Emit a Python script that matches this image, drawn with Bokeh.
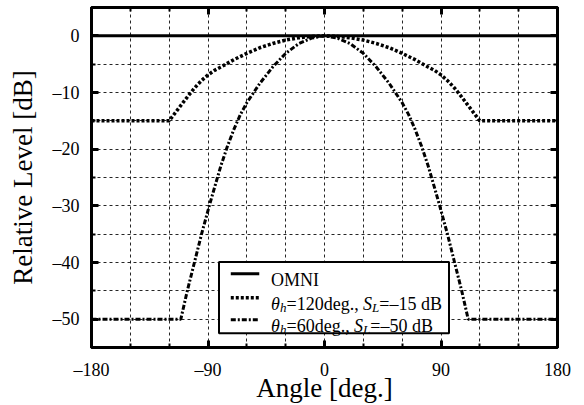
from bokeh.plotting import figure
from bokeh.models import FixedTicker, LinearAxis, Range1d, BoxAnnotation, Arrow, Label
from bokeh.embed import file_html
from bokeh.resources import INLINE

# ---------------- data ----------------
omni_angle = [-180, 180]
omni_level = [0, 0]

h120_angle = [-180, -120, -115, -110, -105, -100, -95, -90, -85, -80, -70, -60, -50, -40, -30, -20, -10, 0,
              10, 20, 30, 40, 50, 60, 70, 80, 85, 90, 95, 100, 105, 110, 115, 120, 180]
h120_level = [-15, -15, -13.5, -12.0, -10.5, -9.1, -7.9, -6.9, -6.1, -5.5, -4.2, -3.1, -2.1, -1.35, -0.75, -0.35, -0.1, 0,
              -0.1, -0.35, -0.75, -1.35, -2.1, -3.1, -4.2, -5.5, -6.1, -6.9, -7.9, -9.1, -10.5, -12.0, -13.5, -15, -15]

h60_angle = [-180, -111, -106, -100.5, -95, -89, -85, -80, -75, -70, -65, -60, -50, -40, -30, -20, -10, 0,
             10, 20, 30, 40, 50, 60, 65, 70, 75, 80, 85, 89, 95, 100.5, 106, 111, 180]
h60_level = [-50, -50, -45, -40, -35, -30, -26.8, -22.9, -19.5, -16.5, -13.9, -11.8, -8.4, -5.5, -3.1, -1.4, -0.4, 0,
             -0.4, -1.4, -3.1, -5.5, -8.4, -11.8, -13.9, -16.5, -19.5, -22.9, -26.8, -30, -35, -40, -45, -50, -50]

x_ticks = [-180, -90, 0, 90, 180]
x_tick_labels = ["\u2013180", "\u201390", "0", "90", "180"]
x_minor = [-150, -120, -60, -30, 30, 60, 120, 150]
x_grid = [-150, -120, -90, -60, -30, 0, 30, 60, 90, 120, 150]

y_ticks = [-50, -40, -30, -20, -10, 0]
y_tick_labels = ["\u201350", "\u201340", "\u201330", "\u201320", "\u201310", "0"]
y_minor = [-45, -35, -25, -15, -5]
y_grid = [-50, -45, -40, -35, -30, -25, -20, -15, -10, -5, 0]

legend_labels = ["OMNI", "120deg.", "60deg."]

FONT = "Liberation Serif"

p = figure(width=584, height=405,
           x_range=Range1d(-180, 180), y_range=Range1d(-55, 5),
           output_backend="svg", toolbar_location=None,
           min_border_left=91, min_border_right=27,
           min_border_top=7, min_border_bottom=57)
p.background_fill_color = "white"
p.border_fill_color = "white"
p.outline_line_color = "black"
p.outline_line_width = 3

# grids
p.xgrid.ticker = FixedTicker(ticks=x_grid)
p.ygrid.ticker = FixedTicker(ticks=y_grid)
for g in (p.xgrid, p.ygrid):
    g.grid_line_color = "black"
    g.grid_line_width = 1
    g.grid_line_dash = "3 3"
    g.grid_line_alpha = 0.85

xt = FixedTicker(ticks=x_ticks, minor_ticks=x_minor)
yt = FixedTicker(ticks=y_ticks, minor_ticks=y_minor)


def style_axis(ax):
    ax.axis_line_width = 3
    ax.axis_line_color = "black"
    ax.major_tick_in = 7
    ax.major_tick_out = 0
    ax.minor_tick_in = 4
    ax.minor_tick_out = 0
    ax.major_tick_line_width = 3
    ax.minor_tick_line_width = 2
    ax.major_tick_line_color = "black"
    ax.minor_tick_line_color = "black"
    ax.major_label_text_font = FONT
    ax.major_label_text_font_size = "18px"
    ax.major_label_text_color = "black"
    ax.axis_label_text_font = FONT
    ax.axis_label_text_font_size = "27px"
    ax.axis_label_text_font_style = "normal"
    ax.axis_label_text_color = "black"


xa = p.xaxis[0]
xa.ticker = xt
xa.major_label_overrides = {t: s for t, s in zip(x_ticks, x_tick_labels)}
xa.axis_label = "Angle [deg.]"
style_axis(xa)
xa.major_label_standoff = 12
xa.axis_label_standoff = -10

ya = p.yaxis[0]
ya.ticker = yt
ya.major_label_overrides = {t: s for t, s in zip(y_ticks, y_tick_labels)}
ya.axis_label = "Relative Level [dB]"
style_axis(ya)
ya.major_label_standoff = 12
ya.axis_label_standoff = 12

top = LinearAxis(ticker=xt, major_label_overrides={t: "" for t in x_ticks})
style_axis(top)
top.major_label_standoff = 0
p.add_layout(top, "above")

right = LinearAxis(ticker=yt, major_label_overrides={t: "" for t in y_ticks})
style_axis(right)
right.major_label_standoff = 0
p.add_layout(right, "right")

# curves
p.line(omni_angle, omni_level, line_color="black", line_width=3)
p.line(h120_angle, h120_level, line_color="black", line_width=3.5, line_dash="3 2")
p.line(h60_angle, h60_level, line_color="black", line_width=3, line_dash="5 2 2 2")

# legend (hand-built to keep italic symbols and subscripts)
p.add_layout(BoxAnnotation(left=-81.5, right=96.2, top=-39.9, bottom=-52.5,
                           fill_color="white", fill_alpha=1.0,
                           line_color="black", line_width=2, line_alpha=1.0))

row_y = [-42.0, -46.2, -50.1]
styles = [dict(line_width=3), dict(line_width=3.5, line_dash="3 2"),
          dict(line_width=3, line_dash="5 2 2 2")]
for ry, st in zip(row_y, styles):
    p.add_layout(Arrow(end=None, x_start=-72.4, y_start=ry, x_end=-50.4, y_end=ry,
                       line_color="black", **st))

TX = -41.3
F = "18px"
S = "13px"


def lab(txt, y, dx, dy, size=F, style="normal"):
    p.add_layout(Label(x=TX, y=y, x_offset=dx, y_offset=dy, text=txt,
                       text_font=FONT, text_font_size=size, text_font_style=style,
                       text_color="black", text_align="left",
                       text_baseline="alphabetic"))


lab(legend_labels[0], row_y[0], 0, -6)
# row 2
lab("\u03b8", row_y[1], 0, -6, style="italic")
lab("h", row_y[1], 9, -10, size=S, style="italic")
lab("=" + legend_labels[1] + ", ", row_y[1], 15.5, -6)
lab("S", row_y[1], 92, -6, style="italic")
lab("L", row_y[1], 101, -10, size=S, style="italic")
lab("=\u201315 dB", row_y[1], 108.3, -6)
# row 3
lab("\u03b8", row_y[2], 0, -6, style="italic")
lab("h", row_y[2], 9, -10, size=S, style="italic")
lab("=" + legend_labels[2] + ", ", row_y[2], 15.5, -6)
lab("S", row_y[2], 83, -6, style="italic")
lab("L", row_y[2], 92, -10, size=S, style="italic")
lab("=\u201350 dB", row_y[2], 99.3, -6)

open("out.html", "w").write(file_html(p, INLINE))
